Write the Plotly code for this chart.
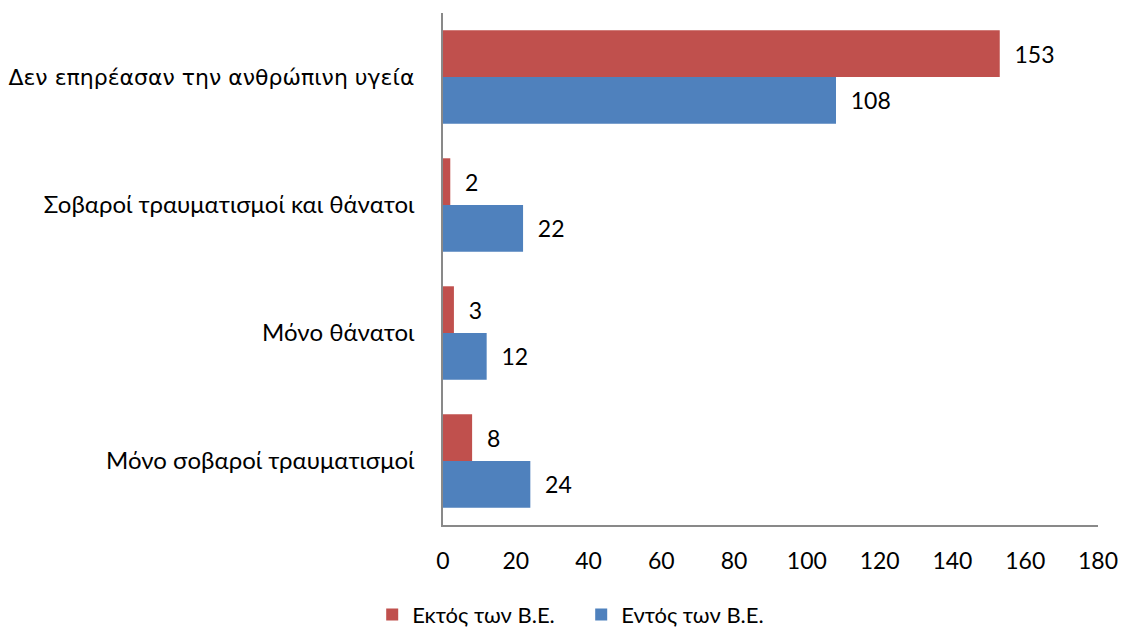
import plotly.graph_objects as go

categories = [
    "Δεν επηρέασαν την ανθρώπινη υγεία",
    "Σοβαροί τραυματισμοί και θάνατοι",
    "Μόνο θάνατοι",
    "Μόνο σοβαροί τραυματισμοί",
]
outside_eu = [153, 2, 3, 8]
inside_eu = [108, 22, 12, 24]
series_names = ["Εκτός των Β.Ε.", "Εντός των Β.Ε."]
x_ticks = [0, 20, 40, 60, 80, 100, 120, 140, 160, 180]

red = "#C0504D"
blue = "#4F81BD"
num_font = "Lato, Carlito, Calibri, sans-serif"
arial_font = "DejaVu Sans, Liberation Sans, Arial, sans-serif"

# first category label appears in an Arial-like face in the original
tick_text = [f"<span style='font-family:{arial_font};font-size:22px'>{categories[0]}</span>"] + categories[1:]

fig = go.Figure()
for name, vals, col in [(series_names[0], outside_eu, red), (series_names[1], inside_eu, blue)]:
    fig.add_trace(go.Bar(
        y=categories, x=vals, name=name, orientation="h",
        marker=dict(color=col, line=dict(width=0)),
        text=vals, texttemplate="\u00a0\u00a0%{x}", textposition="outside",
        cliponaxis=False,
        textfont=dict(family=num_font, size=23, color="#000000"),
    ))

fig.update_layout(
    width=1121, height=628,
    margin=dict(l=443, r=23, t=13, b=103, autoexpand=False),
    paper_bgcolor="white", plot_bgcolor="white",
    barmode="group", bargap=0.27, bargroupgap=0,
    showlegend=True,
    legend=dict(orientation="h", x=0.211, xanchor="center", y=-0.175, yanchor="middle",
                font=dict(family=num_font, size=22, color="#000000"), traceorder="normal",
                itemwidth=30, entrywidth=164, entrywidthmode="pixels"),
    xaxis=dict(range=[0, 180], tickvals=x_ticks, showgrid=False, zeroline=False,
               showline=True, linecolor="#898989", linewidth=1.5,
               ticks="outside", ticklen=15, tickcolor="rgba(0,0,0,0)",
               tickfont=dict(family=num_font, size=23, color="#000000")),
    yaxis=dict(autorange="reversed", showgrid=False, zeroline=False,
               showline=True, linecolor="#898989", linewidth=1.5,
               tickmode="array", tickvals=categories, ticktext=tick_text,
               ticks="outside", ticklen=22, tickcolor="rgba(0,0,0,0)",
               tickfont=dict(family=num_font, size=24, color="#000000")),
)

fig.write_html("out.html", config={"displayModeBar": False},
               post_script="document.body.style.margin='0';")
